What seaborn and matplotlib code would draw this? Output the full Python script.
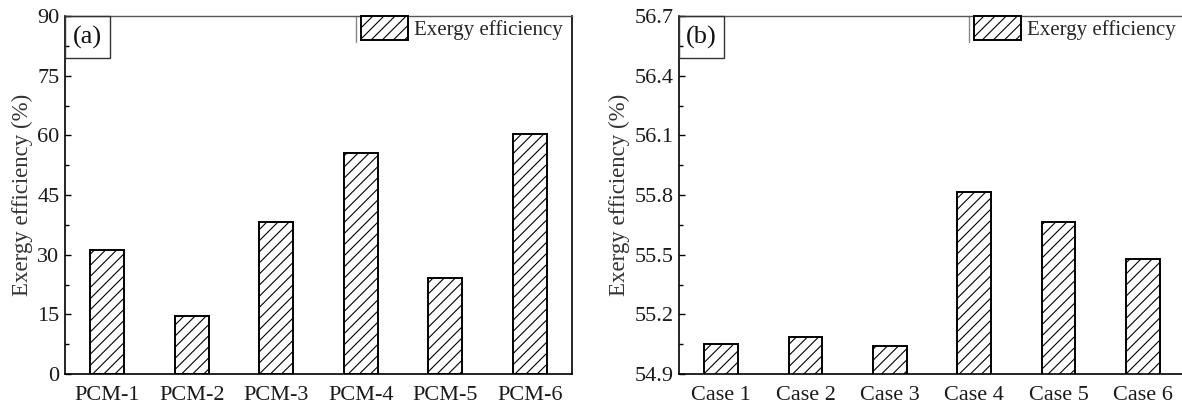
import matplotlib
matplotlib.use("Agg")
import matplotlib.pyplot as plt
from matplotlib.patches import Rectangle
from matplotlib.ticker import FixedLocator
import seaborn as sns
import pandas as pd

# Exergy efficiency for the six phase-change materials
pcm_labels = ["PCM-1", "PCM-2", "PCM-3", "PCM-4", "PCM-5", "PCM-6"]
pcm_exergy = [31.2, 14.6, 38.2, 55.6, 24.2, 60.4]

# Exergy efficiency for the six operating cases
case_labels = ["Case 1", "Case 2", "Case 3", "Case 4", "Case 5", "Case 6"]
case_exergy = [55.053, 55.088, 55.039, 55.815, 55.662, 55.478]

sns.set_theme(style="ticks")
plt.rcParams["font.family"] = ["Liberation Serif", "DejaVu Serif"]
plt.rcParams["hatch.linewidth"] = 0.8
plt.rcParams["hatch.color"] = "black"

FS = 16
LEG_FS = 15
HATCH = "///"

fig = plt.figure(figsize=(11.82, 4.12), dpi=100)
ax_a = fig.add_axes([65 / 1182, 1 - 374 / 412, 507 / 1182, 358 / 412])
ax_b = fig.add_axes([679 / 1182, 1 - 374 / 412, 506 / 1182, 358 / 412])

panels = [
    (ax_a, pcm_labels, pcm_exergy, (0, 90), 15, "{:.0f}", "(a)"),
    (ax_b, case_labels, case_exergy, (54.9, 56.7), 0.3, "{:.1f}", "(b)"),
]

for ax, labels, values, ylim, step, fmt, tag in panels:
    df = pd.DataFrame({"item": labels, "value": values})
    sns.barplot(data=df, x="item", y="value", ax=ax, width=0.4,
                color="white", edgecolor="black", linewidth=1.4,
                label="Exergy efficiency")
    for bar in ax.patches:
        bar.set_hatch(HATCH)
        bar.set_zorder(2)
    ax.set_xlim(-0.5, 5.5)
    lo, hi = ylim
    n = int(round((hi - lo) / step))
    major = [lo + i * step for i in range(n + 1)]
    minor = [lo + (i + 0.5) * step for i in range(n)]
    ax.yaxis.set_major_locator(FixedLocator(major))
    ax.yaxis.set_minor_locator(FixedLocator(minor))
    ax.set_yticklabels([fmt.format(t) for t in major])
    ax.set_ylim(lo, hi)
    ax.tick_params(axis="y", which="major", direction="in", length=4.5,
                   width=1, labelsize=FS, pad=4, colors="black",
                   labelcolor="#1a1a1a")
    ax.tick_params(axis="y", which="minor", direction="in", length=3,
                   width=1, color="black")
    ax.tick_params(axis="x", length=0, labelsize=FS, pad=9,
                   labelcolor="#1a1a1a")
    ax.set_xlabel("")
    ax.set_ylabel("Exergy efficiency (%)", fontsize=FS + 0.5,
                  color="#333333", labelpad=3)
    for side in ["left", "bottom", "right"]:
        ax.spines[side].set_color("black")
        ax.spines[side].set_linewidth(1.2)
    ax.spines["top"].set_color("#555555")
    ax.spines["top"].set_linewidth(1.0)

    # panel tag in a small framed box at the upper-left corner
    ax.add_patch(Rectangle((0, 1 - 42 / 358), 45 / 507, 42 / 358,
                           transform=ax.transAxes, fill=False,
                           edgecolor="#333333", linewidth=1.0,
                           clip_on=False, zorder=5))
    ax.text(22.5 / 507, 1 - 21 / 358, tag, transform=ax.transAxes,
            ha="center", va="center", fontsize=FS + 3, color="#111111")

    leg = ax.legend(loc="upper left", bbox_to_anchor=(0.583, 1.0),
                    frameon=False, fontsize=LEG_FS, borderaxespad=0,
                    borderpad=0, handlelength=2.26, handleheight=1.4,
                    handletextpad=0.3)
    for h in leg.legend_handles:
        h.set_hatch(HATCH)
        h.set_edgecolor("black")
        h.set_linewidth(1.4)
    ax.plot([0.573, 0.573], [1.0, 1 - 26 / 358], transform=ax.transAxes,
            color="#888888", linewidth=1.0, clip_on=False)

fig.savefig("out.png", dpi=100)
